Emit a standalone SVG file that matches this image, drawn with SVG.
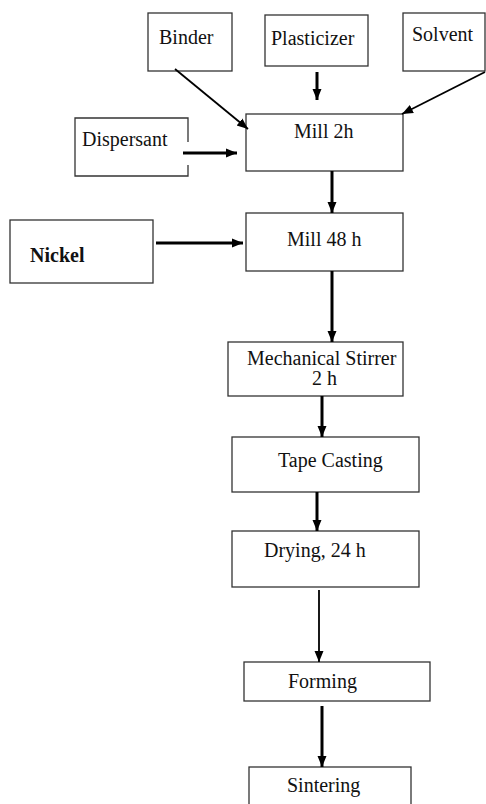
<svg xmlns="http://www.w3.org/2000/svg" width="486" height="804" viewBox="0 0 486 804">
<style>
.box{fill:#fff;stroke:#333;stroke-width:1.3}
.t{font-family:"Liberation Serif","Times New Roman",serif;font-size:20px;fill:#111}
.b{font-weight:bold}
.c{stroke:#000;fill:none}
.thick{stroke-width:3}
.thin{stroke-width:1.8}
</style>
<defs>
<marker id="ah" markerUnits="userSpaceOnUse" markerWidth="12" markerHeight="12" viewBox="0 0 12 12" refX="11" refY="6" orient="auto">
<path d="M0,1.5 L11,6 L0,10.5 z" fill="#000"/>
</marker>
</defs>
<rect width="486" height="804" fill="#fff"/>
<g id="binder"><rect class="box" x="148" y="13" width="84" height="58"/><text class="t" x="159" y="44">Binder</text></g>
<g id="plasticizer"><rect class="box" x="265" y="15" width="103" height="51"/><text class="t" x="271" y="45">Plasticizer</text></g>
<g id="solvent"><rect class="box" x="403" y="13" width="82" height="58"/><text class="t" x="412" y="41">Solvent</text></g>
<g id="dispersant"><path class="box" d="M188,142 L188,118 L75,118 L75,176 L188,176 L188,165"/><text class="t" x="82" y="146">Dispersant</text></g>
<g id="mill2h"><rect class="box" x="246" y="114" width="157" height="57"/><text class="t" x="294" y="138">Mill 2h</text></g>
<g id="nickel"><rect class="box" x="10" y="220" width="143" height="63"/><text class="t b" x="30" y="262">Nickel</text></g>
<g id="mill48h"><rect class="box" x="246" y="213" width="157" height="58"/><text class="t" x="287" y="246">Mill 48 h</text></g>
<g id="stirrer"><rect class="box" x="228" y="342" width="175" height="54"/><text class="t" x="247" y="365">Mechanical Stirrer</text><text class="t" x="312" y="385">2 h</text></g>
<g id="tapecasting"><rect class="box" x="232" y="437" width="187" height="55"/><text class="t" x="278" y="467">Tape Casting</text></g>
<g id="drying"><rect class="box" x="232" y="531" width="187" height="56"/><text class="t" x="264" y="557">Drying, 24 h</text></g>
<g id="forming"><rect class="box" x="244" y="662" width="186" height="39"/><text class="t" x="288" y="688">Forming</text></g>
<g id="sintering"><rect class="box" x="249" y="767" width="162" height="40"/><text class="t" x="287" y="792">Sintering</text></g>
<g id="connectors">
<line class="c thin" x1="175" y1="69" x2="248" y2="129" marker-end="url(#ah)"/>
<line class="c thick" x1="317" y1="72" x2="317" y2="100" marker-end="url(#ah)"/>
<line class="c thin" x1="485" y1="72" x2="402" y2="114" marker-end="url(#ah)"/>
<line class="c thick" x1="183" y1="153" x2="237" y2="153" marker-end="url(#ah)"/>
<line class="c thick" x1="332" y1="171" x2="332" y2="213" marker-end="url(#ah)"/>
<line class="c thick" x1="156" y1="243" x2="243" y2="243" marker-end="url(#ah)"/>
<line class="c thick" x1="332" y1="271" x2="332" y2="342" marker-end="url(#ah)"/>
<line class="c thick" x1="322" y1="396" x2="322" y2="437" marker-end="url(#ah)"/>
<line class="c thick" x1="317" y1="492" x2="317" y2="531" marker-end="url(#ah)"/>
<line class="c thin" x1="319" y1="590" x2="319" y2="662" marker-end="url(#ah)"/>
<line class="c thick" x1="322" y1="706" x2="322" y2="767" marker-end="url(#ah)"/>
</g>
</svg>
